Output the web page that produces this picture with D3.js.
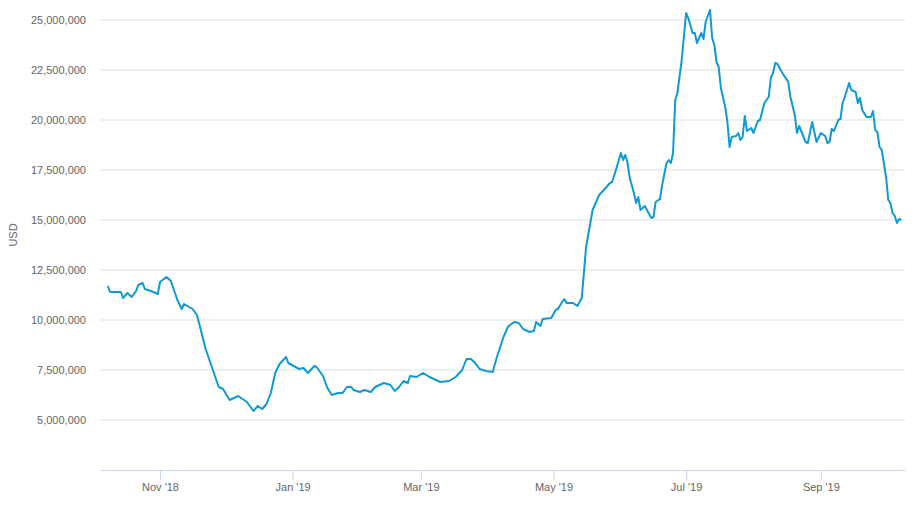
<!DOCTYPE html>
<html><head><meta charset="utf-8">
<script src="https://cdn.jsdelivr.net/npm/d3@7"></script>
<style>body{margin:0;background:#fff}svg{font-family:"Liberation Sans",Arial,sans-serif}</style>
</head><body><svg id="c" width="920" height="511"></svg>
<script>
const startDate = "2018-10-08";
const dayOffsets = [0,1,6,7,9,11,13,14,16,17,21,23,24,27,29,32,34,35,39,41,43,45,48,51,53,56,60,64,67,69,71,73,75,77,79,82,83,88,90,92,95,96,99,101,103,106,108,110,112,113,116,118,121,123,127,130,132,134,136,138,139,142,145,148,153,157,160,163,165,167,169,171,174,177,179,182,184,185,187,189,191,194,196,197,199,200,204,206,207,209,210,211,214,216,218,219,220,223,226,229,231,232,234,236,237,238,239,240,242,243,244,245,247,250,251,252,254,255,257,258,259,260,261,262,264,266,267,269,270,271,273,274,275,277,278,279,280,281,282,284,285,286,287,289,290,291,292,293,294,296,297,299,300,302,304,305,306,307,308,310,313,314,316,317,318,321,322,324,326,328,330,331,332,333,334,336,337,338,339,341,342,344,345,346,347,349,351,352,353,354,355,356,358,359,360,361,362,363,364,365];
const valuesM = [11.7,11.4,11.4,11.1,11.35,11.15,11.45,11.75,11.85,11.55,11.4,11.3,11.9,12.15,11.95,11.0,10.55,10.8,10.55,10.25,9.4,8.55,7.6,6.65,6.55,6.0,6.2,5.9,5.45,5.7,5.55,5.8,6.35,7.35,7.8,8.15,7.85,7.55,7.6,7.35,7.7,7.65,7.2,6.6,6.25,6.35,6.35,6.65,6.65,6.5,6.4,6.5,6.4,6.65,6.85,6.75,6.45,6.65,6.95,6.85,7.2,7.15,7.35,7.15,6.9,6.95,7.15,7.5,8.05,8.05,7.85,7.55,7.45,7.4,8.15,9.15,9.65,9.75,9.9,9.85,9.55,9.4,9.45,9.9,9.7,10.05,10.1,10.5,10.55,10.9,11.05,10.85,10.85,10.7,11.1,12.35,13.65,15.5,16.25,16.6,16.85,16.9,17.6,18.35,18.0,18.25,17.9,17.15,16.35,15.85,16.15,15.5,15.7,15.1,15.15,15.9,16.05,16.75,17.85,18.0,17.85,18.35,21.0,21.35,23.0,25.35,25.1,24.35,24.35,23.85,24.35,24.05,24.9,25.5,24.1,23.75,22.9,22.65,21.6,20.65,19.9,18.65,19.15,19.2,19.35,19.0,19.15,20.2,19.45,19.6,19.35,19.95,20.0,20.85,21.15,22.1,22.35,22.85,22.8,22.4,21.9,21.15,20.25,19.35,19.7,18.9,18.85,19.9,18.9,19.35,19.2,18.85,18.9,19.55,19.45,20.0,20.05,20.85,21.15,21.85,21.5,21.4,20.85,21.1,20.5,20.15,20.15,20.45,19.5,19.4,18.65,18.5,17.15,16.0,15.85,15.35,15.2,14.85,15.05,15.0];
const yTicks = [5000000,7500000,10000000,12500000,15000000,17500000,20000000,22500000,25000000];
const xTickDates = ["2018-11-01","2019-01-01","2019-03-01","2019-05-01","2019-07-01","2019-09-01"];
const yLabel = "USD";

const parse = d3.utcParse("%Y-%m-%d");
const s0 = parse(startDate);
const data = dayOffsets.map((d,i)=>({date:d3.utcDay.offset(s0,d), value:valuesM[i]*1e6}));
const svg = d3.select("#c");
const L=100,R=905,T=0,B=470;
const x = d3.scaleUtc().domain([new Date(+s0-3.6*864e5), new Date(+s0+366.7*864e5)]).range([L,R]);
const y = d3.scaleLinear().domain([2500000,26000000]).range([B,T]);

const grid = svg.append("g");
yTicks.forEach(t=>{
  grid.append("line").attr("x1",L).attr("x2",R).attr("y1",y(t)).attr("y2",y(t)).attr("stroke","#e0e0e0");
});
const ya = svg.append("g").attr("transform",`translate(${L},0)`)
  .call(d3.axisLeft(y).tickValues(yTicks).tickFormat(d3.format(",")).tickSize(0).tickPadding(14));
ya.select(".domain").remove();
ya.selectAll("text").attr("fill","#666").style("font-size","11px").attr("font-family","Liberation Sans, Arial, sans-serif");

const xa = svg.append("g").attr("transform",`translate(0,${B})`)
  .call(d3.axisBottom(x).tickValues(xTickDates.map(parse)).tickFormat(d3.utcFormat("%b '%y")).tickSize(10).tickSizeOuter(0).tickPadding(3));
xa.select(".domain").attr("stroke","#ccd6eb");
xa.selectAll(".tick line").attr("stroke","#ccd6eb");
xa.selectAll("text").attr("fill","#666").style("font-size","11px").attr("font-family","Liberation Sans, Arial, sans-serif");

svg.append("text").attr("transform",`translate(17,${(B+T)/2}) rotate(-90)`).attr("text-anchor","middle")
  .attr("fill","#666").style("font-size","11px").text(yLabel);

svg.append("path").datum(data).attr("fill","none").attr("stroke","#0f9ad4").attr("stroke-width",2)
  .attr("stroke-linejoin","round")
  .attr("d",d3.line().x(d=>x(d.date)).y(d=>y(d.value)));
</script></body></html>
